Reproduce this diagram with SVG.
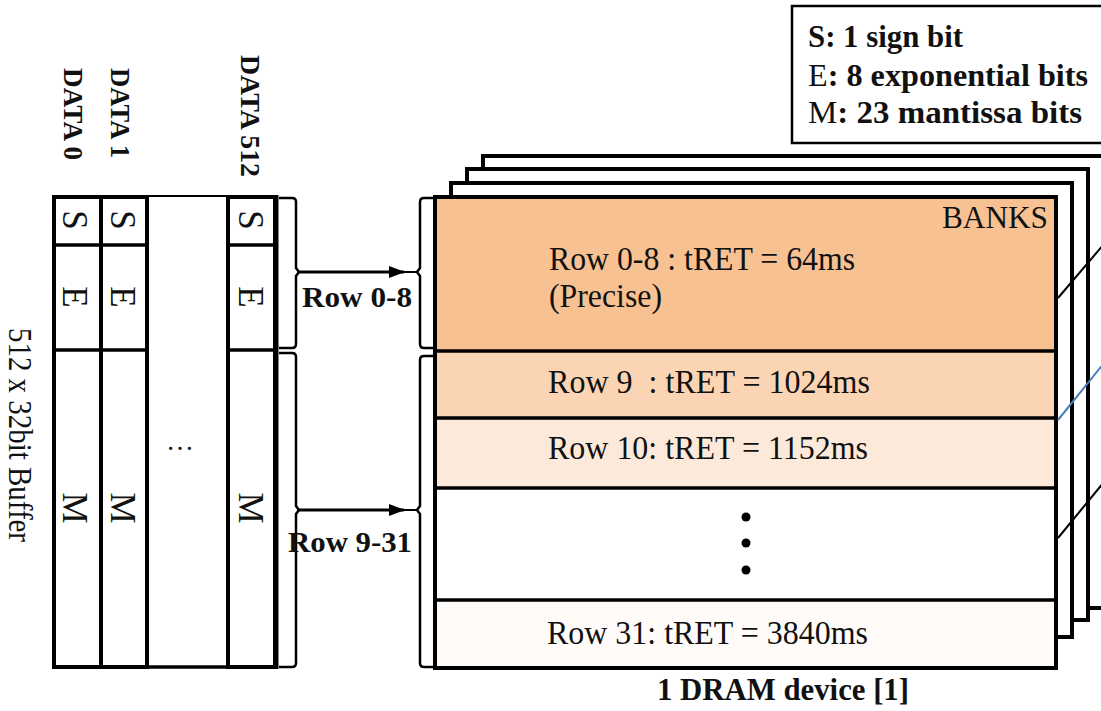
<svg xmlns="http://www.w3.org/2000/svg" width="1101" height="711" viewBox="0 0 1101 711">
<style>
  .t { font-family: "Liberation Serif", serif; fill: #111; }
  .b { font-weight: bold; }
  .cell { fill: #fff; stroke: #000; stroke-width: 4; }
  .layer { fill: #fff; stroke: #000; stroke-width: 4; }
  .band { stroke: #000; stroke-width: 3.5; }
  .brace { fill: none; stroke: #000; stroke-width: 2.5; stroke-linejoin: round; }
  .conn { stroke: #000; stroke-width: 3; fill: none; }
</style>
<defs>
  <marker id="arr" markerWidth="16" markerHeight="12" refX="15" refY="6" orient="auto" markerUnits="userSpaceOnUse">
    <path d="M0,0 L16,6 L0,12 Z" fill="#000"/>
  </marker>
</defs>
<rect x="0" y="0" width="1101" height="711" fill="#fff"/>

<g id="legend">
  <rect x="792" y="6" width="330" height="137" fill="#fff" stroke="#000" stroke-width="2.5"/>
  <text class="t" x="808" y="47" font-size="31" textLength="155" lengthAdjust="spacingAndGlyphs"><tspan class="b">S: 1 sign bit</tspan></text>
  <text class="t" x="808" y="86" font-size="31" textLength="280" lengthAdjust="spacingAndGlyphs">E<tspan class="b">: 8 exponential bits</tspan></text>
  <text class="t" x="808" y="123" font-size="31" textLength="274" lengthAdjust="spacingAndGlyphs">M<tspan class="b">: 23 mantissa bits</tspan></text>
</g>

<g id="buffer-labels">
  <text class="t b" transform="translate(64,68) rotate(90)" font-size="28" textLength="92" lengthAdjust="spacingAndGlyphs">DATA 0</text>
  <text class="t b" transform="translate(111,68) rotate(90)" font-size="28" textLength="90" lengthAdjust="spacingAndGlyphs">DATA 1</text>
  <text class="t b" transform="translate(241,55) rotate(90)" font-size="28" textLength="122" lengthAdjust="spacingAndGlyphs">DATA 512</text>
  <text class="t" transform="translate(9,328) rotate(90)" font-size="33" textLength="214" lengthAdjust="spacingAndGlyphs">512 x 32bit Buffer</text>
</g>

<g id="buffer">
  <line x1="147" y1="196" x2="228" y2="196" stroke="#000" stroke-width="2"/>
  <line x1="147" y1="667" x2="228" y2="667" stroke="#000" stroke-width="3.5"/>
  <rect class="cell" x="54" y="197" width="47" height="470"/>
  <rect class="cell" x="101" y="197" width="46" height="470"/>
  <rect class="cell" x="228" y="197" width="47" height="470"/>
  <line x1="276" y1="195" x2="276" y2="669" stroke="#000" stroke-width="5"/>
  <line class="band" x1="54" y1="245" x2="147" y2="245"/>
  <line class="band" x1="54" y1="350" x2="147" y2="350"/>
  <line class="band" x1="228" y1="245" x2="275" y2="245"/>
  <line class="band" x1="228" y1="350" x2="275" y2="350"/>
  <g class="t" font-size="35" text-anchor="middle">
    <text transform="translate(63,220) rotate(90)">S</text>
    <text transform="translate(63,297) rotate(90)">E</text>
    <text transform="translate(63,508) rotate(90)">M</text>
    <text transform="translate(111,220) rotate(90)">S</text>
    <text transform="translate(111,297) rotate(90)">E</text>
    <text transform="translate(111,508) rotate(90)">M</text>
    <text transform="translate(239,220) rotate(90)">S</text>
    <text transform="translate(239,297) rotate(90)">E</text>
    <text transform="translate(239,508) rotate(90)">M</text>
  </g>
  <text class="t" x="180" y="450" font-size="28" text-anchor="middle">…</text>
</g>

<g id="dram-layers">
  <rect class="layer" x="483" y="156" width="640" height="452"/>
  <rect class="layer" x="467" y="169" width="621" height="451"/>
  <rect class="layer" x="451" y="183" width="621" height="454"/>
</g>

<g id="dram">
  <rect x="435" y="197" width="621" height="154" fill="#F8C192"/>
  <rect x="435" y="351" width="621" height="67" fill="#FBD4B4"/>
  <rect x="435" y="418" width="621" height="70" fill="#FDE9DA"/>
  <rect x="435" y="488" width="621" height="112" fill="#fff"/>
  <rect x="435" y="600" width="621" height="68" fill="#FEFBF8"/>
  <line class="band" x1="435" y1="351" x2="1056" y2="351"/>
  <line class="band" x1="435" y1="418" x2="1056" y2="418"/>
  <line class="band" x1="435" y1="488" x2="1056" y2="488"/>
  <line class="band" x1="435" y1="600" x2="1056" y2="600"/>
  <rect x="435" y="197" width="621" height="471" fill="none" stroke="#000" stroke-width="4"/>
  <text class="t" x="1048" y="228" font-size="31" text-anchor="end" textLength="106" lengthAdjust="spacingAndGlyphs">BANKS</text>
  <text class="t" x="549" y="270" font-size="34" textLength="306" lengthAdjust="spacingAndGlyphs">Row 0-8 : tRET = 64ms</text>
  <text class="t" x="549" y="307" font-size="34" textLength="113" lengthAdjust="spacingAndGlyphs">(Precise)</text>
  <text class="t" x="548" y="393" font-size="34" textLength="322" lengthAdjust="spacingAndGlyphs" xml:space="preserve">Row 9  : tRET = 1024ms</text>
  <text class="t" x="548" y="459" font-size="34" textLength="320" lengthAdjust="spacingAndGlyphs">Row 10: tRET = 1152ms</text>
  <circle cx="746" cy="517" r="4.5" fill="#000"/>
  <circle cx="746" cy="543" r="4.5" fill="#000"/>
  <circle cx="746" cy="570" r="4.5" fill="#000"/>
  <text class="t" x="547" y="644" font-size="34" textLength="321" lengthAdjust="spacingAndGlyphs">Row 31: tRET = 3840ms</text>
  <text class="t b" x="657" y="700" font-size="31" textLength="252" lengthAdjust="spacingAndGlyphs">1 DRAM device [1]</text>
</g>

<g id="side-lines">
  <line x1="1058" y1="298" x2="1104" y2="244" stroke="#000" stroke-width="2"/>
  <line x1="1058" y1="420" x2="1104" y2="363" stroke="#4A7EBB" stroke-width="2"/>
  <line x1="1058" y1="538" x2="1104" y2="482" stroke="#000" stroke-width="2"/>
</g>

<g id="connectors">
  <path class="brace" d="M279,198 H292 Q296,198 296,202 V268 L299,272 L296,276 V344 Q296,348 292,348 H279"/>
  <path class="brace" d="M279,353 H292 Q296,353 296,357 V506 L299,510 L296,514 V663 Q296,667 292,667 H279"/>
  <path class="brace" d="M436,198 H424 Q420,198 420,202 V268 L417,272 L420,276 V344 Q420,348 424,348 H436"/>
  <path class="brace" d="M436,356 H424 Q420,356 420,360 V506 L417,510 L420,514 V663 Q420,667 424,667 H436"/>
  <line class="conn" x1="297" y1="272" x2="404" y2="272" marker-end="url(#arr)"/>
  <line x1="400" y1="272" x2="418" y2="272" stroke="#000" stroke-width="2"/>
  <line class="conn" x1="297" y1="510" x2="404" y2="510" marker-end="url(#arr)"/>
  <line x1="400" y1="510" x2="418" y2="510" stroke="#000" stroke-width="2"/>
  <text class="t b" x="302" y="307" font-size="29" textLength="110" lengthAdjust="spacingAndGlyphs">Row 0-8</text>
  <text class="t b" x="288" y="552" font-size="29" textLength="124" lengthAdjust="spacingAndGlyphs">Row 9-31</text>
</g>
</svg>
